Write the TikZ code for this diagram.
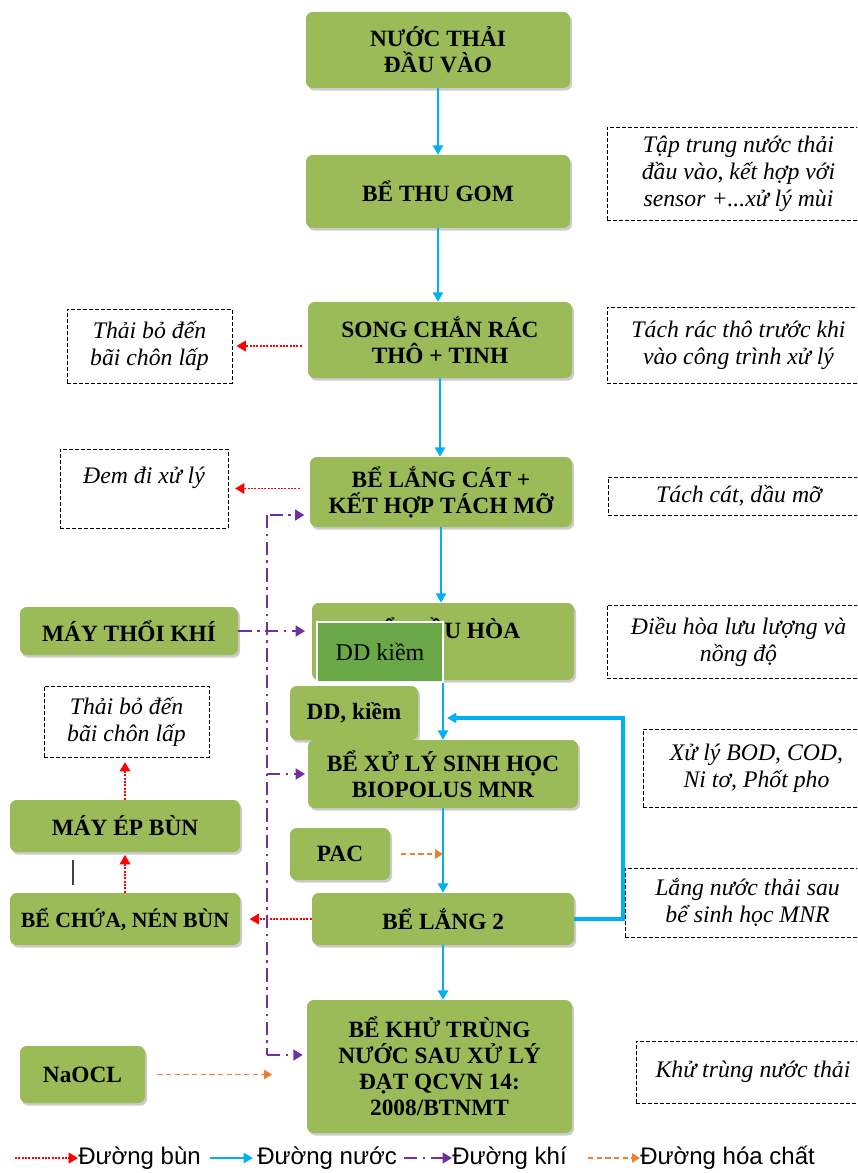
\documentclass[tikz,border=0pt]{standalone}
\usepackage{fontspec}
\setmainfont{Liberation Serif}
\setsansfont{Liberation Sans}
\usepackage{xcolor}
\usepackage{tikz}
\usetikzlibrary{arrows.meta,shadows}

\definecolor{stagegreen}{RGB}{155,187,89}
\definecolor{alkaligreen}{RGB}{106,168,71}
\definecolor{waterblue}{RGB}{0,176,240}
\definecolor{airpurple}{RGB}{112,48,160}
\definecolor{chemorange}{RGB}{237,125,49}

\tikzset{
  stage/.style={fill=stagegreen, rounded corners=5pt, align=center, inner sep=1pt,
    font=\bfseries\fontsize{17.5}{19.5}\selectfont,
    drop shadow={shadow xshift=1.5pt, shadow yshift=-2pt, fill=black!40, opacity=0.5}},
  note/.style={draw, line width=0.7pt, dash pattern=on 3pt off 1.5pt, align=center, inner sep=1pt,
    font=\itshape\fontsize{17.8}{20.25}\selectfont},
  water/.style={draw=waterblue, line width=2.2pt, -{Triangle[length=7pt,width=7.5pt]}},
  recycle/.style={water, line width=3.2pt},
  sludge/.style={draw=red, line width=1.2pt, dash pattern=on 1.5pt off 1pt, -{Triangle[length=7pt,width=8pt]}},
  air/.style={draw=airpurple, line width=1.8pt, dash pattern=on 10pt off 4pt on 2pt off 4pt},
  airfeed/.style={air, -{Triangle[length=7pt,width=8pt]}},
  chem/.style={draw=chemorange, line width=1.1pt, dash pattern=on 4pt off 2.5pt, -{Triangle[length=6pt,width=7pt]}},
  legend/.style={font=\sffamily\fontsize{18}{20}\selectfont, inner sep=0pt, anchor=west}
}

\begin{document}
\begin{tikzpicture}[x=0.75pt,y=0.75pt,yscale=-1,xscale=1]
    \useasboundingbox (0,0) rectangle (857,1173);
    \clip (0,0) rectangle (857,1173);
    %Shapes: main line
    \node[stage, minimum width=198pt, minimum height=57pt] (inflow) at (438,50) {NƯỚC THẢI\\ĐẦU VÀO};
    \node[stage, minimum width=198pt, minimum height=54.75pt] (collect) at (438,191.5) {BỂ THU GOM};
    \node[stage, minimum width=198pt, minimum height=57pt] (screen) at (440,340) {SONG CHẮN RÁC\\THÔ + TINH};
    \node[stage, minimum width=196.5pt, minimum height=52.5pt] (grit) at (441,492) {BỂ LẮNG CÁT +\\KẾT HỢP TÁCH MỠ};
    \node[stage, minimum width=196.5pt, minimum height=57.75pt] (equal) at (443,641.5) {BỂ ĐIỀU HÒA\\~};
    \node[stage, minimum width=96pt, minimum height=40.5pt] (dose) at (354,713) {DD, kiềm};
    \node[stage, minimum width=202.5pt, minimum height=51pt] (bio) at (443,774) {BỂ XỬ LÝ SINH HỌC\\BIOPOLUS MNR};
    \node[stage, minimum width=75pt, minimum height=39pt] (pac) at (340,854) {PAC};
    \node[stage, minimum width=196.5pt, minimum height=39pt] (settle) at (443,919) {BỂ LẮNG 2};
    \node[stage, minimum width=198.75pt, minimum height=99.75pt] (disinf) at (439.5,1066.5) {BỂ KHỬ TRÙNG\\NƯỚC SAU XỬ LÝ\\ĐẠT QCVN 14:\\2008/BTNMT};
    %Shapes: left column
    \node[stage, minimum width=163.5pt, minimum height=36pt] (blower) at (129,631) {MÁY THỔI KHÍ};
    \node[stage, minimum width=172.5pt, minimum height=39pt] (press) at (125,826) {MÁY ÉP BÙN};
    \node[stage, minimum width=172.5pt, minimum height=39pt, font=\bfseries\fontsize{16.3}{19.5}\selectfont] (thick) at (125,919) {BỂ CHỨA, NÉN BÙN};
    \node[stage, minimum width=93.75pt, minimum height=42.75pt] (naocl) at (82.5,1074.5) {NaOCL};
    %Dashed notes
    \node[note, minimum width=197.25pt, minimum height=69.75pt] (noteA) at (738.5,173.5) {Tập trung nước thải\\đầu vào, kết hợp với\\sensor +...xử lý mùi};
    \node[note, minimum width=197.25pt, minimum height=57pt] (noteB) at (738.5,345) {Tách rác thô trước khi\\vào công trình xử lý};
    \node[note, minimum width=196.5pt, minimum height=28.5pt] (noteC) at (739,496) {Tách cát, dầu mỡ};
    \node[note, minimum width=197.25pt, minimum height=54.75pt] (noteD) at (738.5,641.5) {Điều hòa lưu lượng và\\nồng độ};
    \node[note, minimum width=170.25pt, minimum height=58.5pt] (noteE) at (756.5,768) {Xử lý BOD, COD,\\Ni tơ, Phốt pho};
    \node[note, minimum width=183.75pt, minimum height=51.75pt] (noteF) at (747.5,902.5) {Lắng nước thải sau\\bể sinh học MNR};
    \node[note, minimum width=175.5pt, minimum height=46.5pt] (noteG) at (753,1072) {Khử trùng nước thải};
    \node[note, minimum width=123.75pt, minimum height=55.5pt] (dumpA) at (149.5,346) {Thải bỏ đến\\bãi chôn lấp};
    \node[note, minimum width=126pt, minimum height=59.25pt] (dumpB) at (144,488.5) {Đem đi xử lý\\~};
    \node[note, minimum width=123.75pt, minimum height=53.25pt] (dumpC) at (126.5,721.5) {Thải bỏ đến\\bãi chôn lấp};
    %Water line
    \draw[water] (inflow.south) -- (collect.north);
    \draw[water] (collect.south) -- (collect.south |- screen.north);
    \draw[water] (screen.south) -- (screen.south |- grit.north);
    \draw[water] (grit.south) -- (grit.south |- equal.north);
    \draw[water] (equal.south) -- (equal.south |- bio.north);
    \draw[water] (bio.south) -- (bio.south |- settle.north);
    \draw[water] (settle.south) -- (settle.south |- disinf.north);
    \coordinate (loop) at (623,718);
    \draw[recycle, shorten >=3pt] (settle.east) -| (loop) -- (loop -| bio.north);
    %Sludge line
    \draw[sludge, shorten <=4.5pt, shorten >=3pt] (screen.west |- dumpA.east) -- (dumpA.east);
    \draw[sludge, shorten <=7.5pt, shorten >=5pt] (grit.west |- dumpB.east) -- (dumpB.east);
    \draw[sludge, shorten >=7pt] (settle.west) -- (thick.east);
    \draw[sludge, shorten >=2pt] (thick.north) -- (press.south);
    \draw[sludge, shorten >=3.5pt] (press.north) -- (press.north |- dumpC.south);
    \coordinate (stub) at (73,872);
    \draw[line width=0.8pt, black!75, shorten <=6pt, shorten >=6pt] (stub |- press.south) -- (stub |- thick.north);
    %Air line
    \coordinate (airtop) at (267,515);
    \coordinate (airbot) at (267,1055);
    \draw[air] (airtop) -- (airbot);
    \draw[airfeed, shorten <=2pt, shorten >=4pt] (airtop) -- (airtop -| grit.west);
    \draw[airfeed, shorten >=5pt] (blower.east) -- (blower.east -| equal.west);
    \draw[airfeed, shorten >=2pt] (airtop |- bio.west) -- (bio.west);
    \draw[airfeed, shorten >=3pt] (airbot) -- (airbot -| disinf.west);
    %Chemical line
    \draw[chem, shorten <=8pt] (pac.east) -- (pac.east -| bio.south);
    \draw[chem, shorten <=9pt, shorten >=26pt] (naocl.east) -- (naocl.east -| disinf.west);
    %Overlay box
    \node[fill=alkaligreen, draw=white, line width=2.2pt, minimum width=94.5pt, minimum height=45pt,
      font=\fontsize{18}{20}\selectfont] (alkali) at (380,652) {DD kiềm};
    % Legend
    \node[legend] (legmud) at (78,1158) {Đường bùn};
    \node[legend] (legwater) at (257,1158) {Đường nước};
    \node[legend] (legair) at (452,1158) {Đường khí};
    \node[legend] (legchem) at (640,1158) {Đường hóa chất};
    \coordinate (keymud) at (15,1158);
    \coordinate (keywater) at (210,1158);
    \coordinate (keyair) at (404,1158);
    \coordinate (keychem) at (588,1158);
    \draw[sludge] (keymud) -- (legmud.west);
    \draw[water] (keywater) -- ([xshift=-3pt]legwater.west);
    \draw[airfeed] (keyair) -- (legair.west);
    \draw[chem] (keychem) -- (legchem.west);
\end{tikzpicture}
\end{document}
